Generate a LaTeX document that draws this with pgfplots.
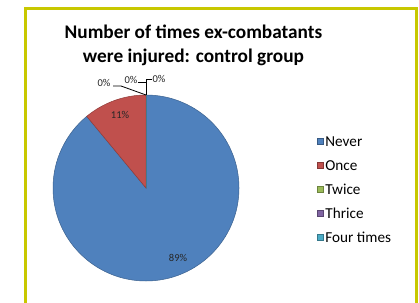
\documentclass[border=0pt]{standalone}
\usepackage{pgfplots}
\usepackage{pgfplotstable}
\usepackage{fontspec}
\setmainfont{Carlito}
\pgfplotsset{compat=1.18}
\definecolor{cNever}{HTML}{4F81BD}
\definecolor{cOnce}{HTML}{C0504D}
\definecolor{cTwice}{HTML}{9BBB59}
\definecolor{cThrice}{HTML}{8064A2}
\definecolor{cFour}{HTML}{4BACC6}
\definecolor{frame}{RGB}{200,200,0}
\definecolor{lbl}{HTML}{262626}
% slice data: label positions (lx,ly) (pixel coordinates, y up)
\pgfplotstableread[col sep=comma]{
name,pct,col,lx,ly
Never,89,cNever,178,44
Once,11,cOnce,120,187
Twice,0,cTwice,104,219
Thrice,0,cThrice,131,222
Four times,0,cFour,159,223
}\piedata
\begin{document}
\begin{tikzpicture}
\begin{axis}[
  x=1pt, y=1pt,
  xmin=0, xmax=419, ymin=0, ymax=302,
  hide axis, clip=false,
  legend style={draw=none, fill=none, at={(316.7/419,0.5477)}, anchor=north west,
    inner sep=0pt, row sep=14.6pt,
    nodes={text height=9.4pt, text depth=0pt, inner sep=0pt},
    font=\fontsize{15.2}{15.2}\selectfont},
  legend cell align=left,
  /tikz/every odd column/.append style={column sep=2pt},
]
\coordinate (bl) at (axis cs:0,0);
\coordinate (tr) at (axis cs:419,302);
% frame
\draw[frame, line width=3pt] (axis cs:25.8,-10) -- (axis cs:25.8,293.8) -- (axis cs:416,293.8) -- (axis cs:416,-10);
% title
\node[font=\bfseries\fontsize{19.3}{23.5}\selectfont, align=center] at (axis cs:193.5,256.5)
  {Number of times ex-combatants\\were injured: control group};
% pie slices from data
\pgfplotstablegetrowsof{\piedata}
\pgfmathtruncatemacro\nrows{\pgfplotsretval-1}
\def\angA{90}
\pgfplotsforeachungrouped \i in {0,...,\nrows}{%
  \pgfplotstablegetelem{\i}{pct}\of\piedata \let\p\pgfplotsretval
  \pgfplotstablegetelem{\i}{col}\of\piedata \let\c\pgfplotsretval
  \pgfplotstablegetelem{\i}{name}\of\piedata \let\n\pgfplotsretval
  \pgfmathsetmacro\angB{\angA-3.6*\p}
  \edef\temp{\noexpand\fill[fill=\c, draw=\c!75!black, line width=0.5pt]
     (axis cs:146,114) -- ++(\angA:93pt) arc[start angle=\angA, end angle=\angB, radius=93pt] -- cycle;
     \noexpand\addlegendimage{legend image code/.code={\noexpand\draw[fill=\c, draw=\c!70!black, line width=0.5pt] (0pt,-3pt) rectangle (6pt,3pt);}}
     \noexpand\addlegendentry{\n}}%
  \temp
  \let\angA\angB
}
% leader lines for zero slices
\draw[black, line width=0.8pt] (axis cs:113,216) -- (axis cs:121,216) -- (axis cs:146,207);
\draw[black, line width=0.8pt] (axis cs:138,219.3) -- (axis cs:146,219.3) -- (axis cs:146,207);
\draw[black, line width=0.8pt] (axis cs:152,223) -- (axis cs:146,223) -- (axis cs:146,207);
% data labels
\pgfplotsforeachungrouped \i in {0,...,\nrows}{%
  \pgfplotstablegetelem{\i}{pct}\of\piedata \let\p\pgfplotsretval
  \pgfplotstablegetelem{\i}{lx}\of\piedata \let\lx\pgfplotsretval
  \pgfplotstablegetelem{\i}{ly}\of\piedata \let\ly\pgfplotsretval
  \edef\temp{\noexpand\node[text=lbl, font=\noexpand\fontsize{10.5}{10.5}\noexpand\selectfont, inner sep=0pt] at (axis cs:\lx,\ly) {\p\noexpand\%};}%
  \temp
}
\end{axis}
\pgfresetboundingbox
\useasboundingbox (bl) rectangle (tr);
\end{tikzpicture}
\end{document}
